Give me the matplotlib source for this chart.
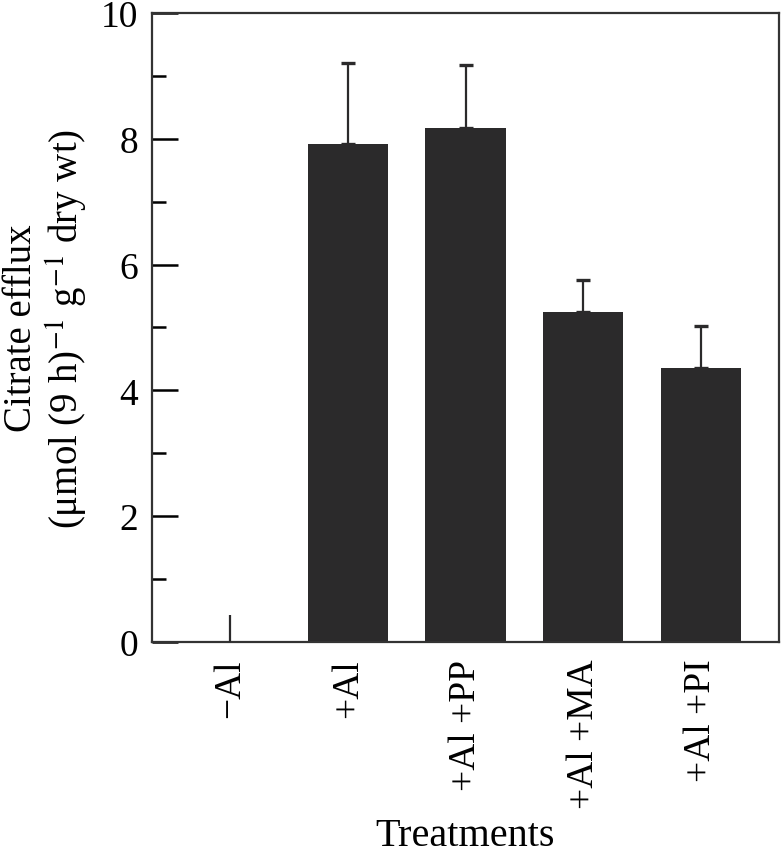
import matplotlib
matplotlib.use('Agg')
from matplotlib import pyplot as plt

treatments = ['\u2212Al', '+Al', '+Al +PP', '+Al +MA', '+Al +PI']
citrate = [0.0, 7.92, 8.17, 5.25, 4.35]
err = [0.43, 1.28, 1.0, 0.5, 0.67]

plt.rcParams['font.family'] = ['Liberation Serif', 'DejaVu Serif']
plt.rcParams['mathtext.fontset'] = 'stix'
ftSize = 27

fig = plt.figure(figsize=(7.82, 8.53), dpi=100)
ax = fig.add_axes([0.1944, 0.2462, 0.8018, 0.7374])

x = list(range(len(treatments)))
ax.bar(x, citrate, width=0.68, color='#2b2a2b', zorder=2)
# -Al has no cap on its error bar
ax.errorbar(x[:1], citrate[:1], yerr=[[0], err[:1]], fmt='none', ecolor='#2b2a2b',
            elinewidth=1.6, capsize=0, zorder=3)
ax.errorbar(x[1:], citrate[1:], yerr=[[0] * 4, err[1:]], fmt='none', ecolor='#2b2a2b',
            elinewidth=1.6, capsize=5, capthick=2.4, zorder=3)

ax.set_xlim(-0.66, 4.66)
ax.set_ylim(0, 10)
ax.set_yticks([0, 2, 4, 6, 8, 10])
ax.set_yticks([1, 3, 5, 7, 9], minor=True)
ax.tick_params(axis='y', which='major', direction='in', length=19, width=1.8,
               labelsize=ftSize, pad=10)
ax.tick_params(axis='y', which='minor', direction='in', length=10, width=1.8)
ax.set_xticks(x)
ax.set_xticklabels(treatments, rotation=90, fontsize=ftSize)
ax.tick_params(axis='x', length=0, pad=12)
for sp in ax.spines.values():
    sp.set_linewidth(1.6)
    sp.set_color('#333333')

ax.set_ylabel('Citrate efflux\n(\u03bcmol (9 h)$^{-1}$ g$^{-1}$ dry wt)', fontsize=28,
              linespacing=1.1, labelpad=8)
ax.set_xlabel('Treatments', fontsize=29, labelpad=6)

plt.savefig('out.png', dpi=100)
